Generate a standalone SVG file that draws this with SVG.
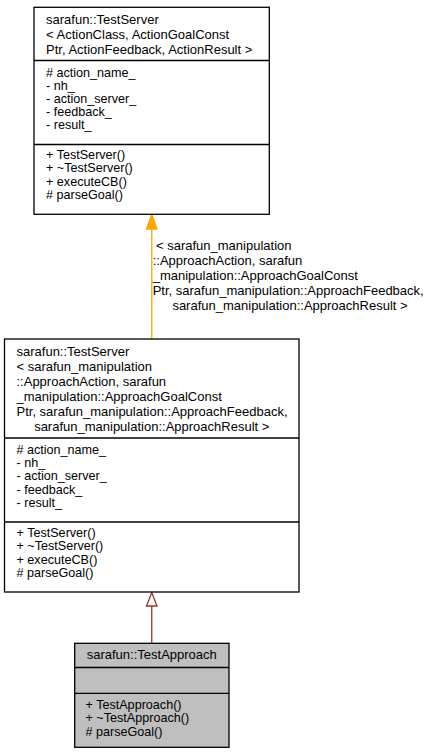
<svg xmlns="http://www.w3.org/2000/svg" width="431" height="755" viewBox="0 0 431 755">
<style>
text{font-family:"Liberation Sans",Arial,sans-serif;font-size:13px;fill:#000}
.m{font-size:12.6px}
.box{fill:#fff;stroke:#000;stroke-width:1.3}
.cur{fill:#bfbfbf;stroke:#000;stroke-width:1.3}
.sep{stroke:#000;stroke-width:1.3}
.c{text-anchor:middle}
</style>
<rect width="431" height="755" fill="#fff"/>
<g id="connectors">
<g id="edge-template">
<line x1="151.75" y1="339" x2="151.75" y2="228" stroke="#ffa500" stroke-width="1.3"/>
<polygon points="151.75,214.5 146.5,229 157,229" fill="#ffa500" stroke="#ffa500" stroke-width="1.3"/>
<text x="156" y="250">&lt; sarafun_manipulation</text>
<text x="152.7" y="265">::ApproachAction, sarafun</text>
<text x="152.7" y="280">_manipulation::ApproachGoalConst</text>
<text x="152.7" y="295">Ptr, sarafun_manipulation::ApproachFeedback,</text>
<text x="290" y="310" class="c">sarafun_manipulation::ApproachResult &gt;</text>
</g>
<g id="edge-inherit">
<line x1="151.75" y1="643.3" x2="151.75" y2="606" stroke="#9a3131" stroke-width="1.3"/>
<polygon points="151.75,592.5 146.5,606 157,606" fill="#fff" stroke="#9a3131" stroke-width="1.3"/>
</g>
</g>
<g id="node-testserver-template">
<rect class="box" x="34" y="7.3" width="235.3" height="207"/>
<line class="sep" x1="34" y1="60.5" x2="269.3" y2="60.5"/>
<line class="sep" x1="34" y1="144.5" x2="269.3" y2="144.5"/>
<text x="46" y="24.3">sarafun::TestServer</text>
<text x="46" y="39.3">&lt; ActionClass, ActionGoalConst</text>
<text x="46" y="54.3">Ptr, ActionFeedback, ActionResult &gt;</text>
<text class="m" x="46" y="76.6"># action_name_</text>
<text class="m" x="46" y="89.8">- nh_</text>
<text class="m" x="46" y="103">- action_server_</text>
<text class="m" x="46" y="116.2">- feedback_</text>
<text class="m" x="46" y="129.4">- result_</text>
<text class="m" x="46" y="159">+ TestServer()</text>
<text class="m" x="46" y="172.3">+ ~TestServer()</text>
<text class="m" x="46" y="185.6">+ executeCB()</text>
<text class="m" x="46" y="198.9"># parseGoal()</text>
</g>
<g id="node-testserver-approach">
<rect class="box" x="4.5" y="339" width="294.5" height="253"/>
<line class="sep" x1="4.5" y1="438" x2="299" y2="438"/>
<line class="sep" x1="4.5" y1="522" x2="299" y2="522"/>
<text x="16.5" y="355.5">sarafun::TestServer</text>
<text x="16.5" y="370.5">&lt; sarafun_manipulation</text>
<text x="16.5" y="385.5">::ApproachAction, sarafun</text>
<text x="16.5" y="400.5">_manipulation::ApproachGoalConst</text>
<text x="16.5" y="415.5">Ptr, sarafun_manipulation::ApproachFeedback,</text>
<text x="151.75" y="430.5" class="c">sarafun_manipulation::ApproachResult &gt;</text>
<text class="m" x="16.5" y="454"># action_name_</text>
<text class="m" x="16.5" y="467.2">- nh_</text>
<text class="m" x="16.5" y="480.4">- action_server_</text>
<text class="m" x="16.5" y="493.6">- feedback_</text>
<text class="m" x="16.5" y="506.8">- result_</text>
<text class="m" x="16.5" y="537">+ TestServer()</text>
<text class="m" x="16.5" y="550.3">+ ~TestServer()</text>
<text class="m" x="16.5" y="563.6">+ executeCB()</text>
<text class="m" x="16.5" y="576.9"># parseGoal()</text>
</g>
<g id="node-testapproach">
<rect class="cur" x="74.7" y="643.3" width="154.3" height="104"/>
<line class="sep" x1="74.7" y1="667.5" x2="229" y2="667.5"/>
<line class="sep" x1="74.7" y1="693.3" x2="229" y2="693.3"/>
<text x="151.75" y="658.5" class="c">sarafun::TestApproach</text>
<text class="m" x="85.5" y="709">+ TestApproach()</text>
<text class="m" x="85.5" y="722.3">+ ~TestApproach()</text>
<text class="m" x="85.5" y="735.6"># parseGoal()</text>
</g>
</svg>
